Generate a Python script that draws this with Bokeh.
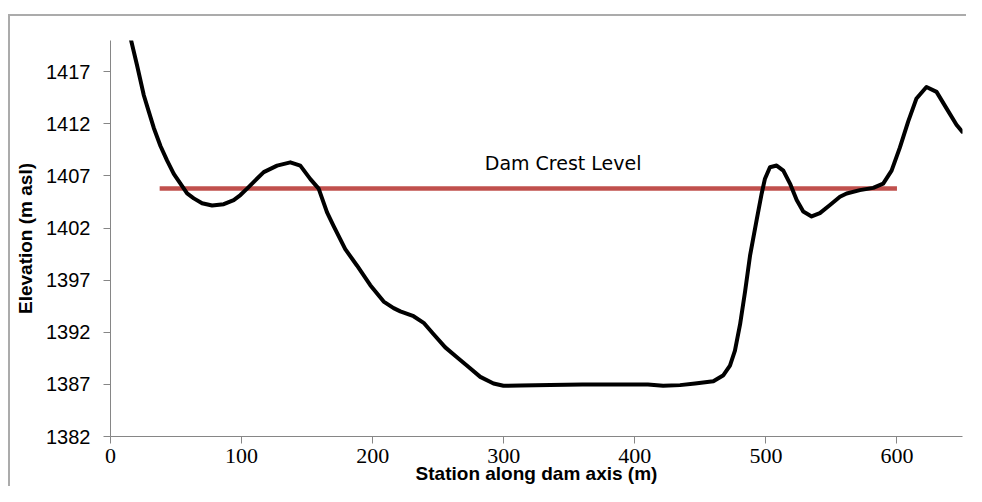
from bokeh.plotting import figure
from bokeh.models import Range1d, FixedTicker, Label
from bokeh.embed import file_html
from bokeh.resources import INLINE

# Ground profile along the dam axis (station m, elevation m asl)
station = [14.8, 20.33, 25.41, 29.22, 33.03, 38.12, 43.2, 48.28, 53.36, 58.44,
           63.53, 69.88, 77.5, 86.4, 94.0, 99.1, 104.2, 110.5, 116.9, 127.1,
           137.2, 144.8, 152.5, 158.8, 165.2, 170.25, 179.1, 188.0, 198.2, 208.4,
           216.0, 221.1, 231.2, 238.9, 246.5, 255.4, 264.3, 273.2, 282.1, 292.2,
           299.8, 312.6, 335.4, 360.0, 390.0, 410.0, 421.6, 434.5, 446.0, 459.9,
           467.6, 472.6, 476.4, 480.3, 484.1, 487.9, 493.0, 496.8, 499.3, 503.1,
           508.2, 513.3, 518.4, 523.5, 528.5, 534.9, 541.2, 548.9, 556.5, 561.6,
           571.7, 581.9, 589.5, 595.9, 602.2, 608.6, 614.9, 622.5, 630.2, 637.8,
           645.4, 649.8]
elevation = [1420.5, 1417.58, 1414.75, 1413.18, 1411.61, 1409.88, 1408.47, 1407.21, 1406.27, 1405.32,
             1404.85, 1404.38, 1404.16, 1404.29, 1404.69, 1405.17, 1405.79, 1406.58, 1407.37, 1407.99,
             1408.31, 1407.99, 1406.7, 1405.79, 1403.5, 1402.18, 1399.98, 1398.41, 1396.52, 1394.95,
             1394.32, 1394.01, 1393.54, 1392.91, 1391.81, 1390.55, 1389.61, 1388.66, 1387.72, 1387.09,
             1386.87, 1386.9, 1386.95, 1387.0, 1387.0, 1386.98, 1386.88, 1386.93, 1387.08, 1387.3,
             1387.88, 1388.8, 1390.23, 1392.75, 1395.89, 1399.35, 1402.81, 1405.32, 1406.74, 1407.84,
             1408.0, 1407.52, 1406.27, 1404.69, 1403.59, 1403.12, 1403.44, 1404.22, 1405.0, 1405.32,
             1405.64, 1405.86, 1406.27, 1407.52, 1409.72, 1412.24, 1414.44, 1415.54, 1415.07, 1413.49,
             1411.92, 1411.25]

crest_station = [37.5, 600.0]
crest_level = [1405.8, 1405.8]

x_ticks = [0, 100, 200, 300, 400, 500, 600]
y_ticks = [1382, 1387, 1392, 1397, 1402, 1407, 1412, 1417]

p = figure(width=966, height=486, output_backend="svg", toolbar_location=None,
           x_range=Range1d(0, 650), y_range=Range1d(1382, 1420),
           min_border_left=110, min_border_right=4, min_border_top=40, min_border_bottom=10)
p.outline_line_color = None
p.xgrid.visible = False
p.ygrid.visible = False
p.background_fill_color = None
p.border_fill_color = None
# outer chart-area border: thin grey top and left edges (right/bottom fall outside the view)
p.styles = {
    "background-color": "white",
    "background-image": (
        "linear-gradient(to bottom, transparent 14px, #ababab 14px, #ababab 16px, transparent 16px), "
        "linear-gradient(to right, transparent 8px, #ababab 8px, #ababab 10px, transparent 10px)"
    ),
    "background-size": "100% 100%, 100% 100%",
    "background-position": "8px 0px, 0px 14px",
    "background-repeat": "no-repeat, no-repeat",
}

for ax in (p.xaxis[0], p.yaxis[0]):
    ax.axis_line_color = "#868686"
    ax.major_tick_line_color = "#868686"
    ax.major_tick_out = 7
    ax.major_tick_in = 0
    ax.minor_tick_line_color = None
    ax.major_label_text_color = "black"
    ax.axis_label_text_font = "Liberation Sans"
    ax.axis_label_text_font_style = "bold"
    ax.axis_label_text_font_size = "19px"
    ax.axis_label_text_color = "black"

p.xaxis[0].ticker = FixedTicker(ticks=x_ticks)
p.yaxis[0].ticker = FixedTicker(ticks=y_ticks)
p.xaxis[0].major_label_text_font = "Liberation Serif"
p.xaxis[0].major_label_text_font_size = "22px"
p.xaxis[0].major_label_standoff = 5
p.xaxis[0].axis_label = "Station along dam axis (m)"
p.xaxis[0].axis_label_standoff = -3
p.yaxis[0].major_label_text_font = "Liberation Sans"
p.yaxis[0].major_label_text_font_size = "20px"
p.yaxis[0].major_label_standoff = 13
p.yaxis[0].axis_label = "Elevation (m asl)"
p.yaxis[0].axis_label_standoff = 7

p.line(crest_station, crest_level, line_color="#c0504d", line_width=4.5)
p.line(station, elevation, line_color="black", line_width=4, line_join="round", line_cap="round")

p.add_layout(Label(x=345.3, y=1408.26, text="Dam Crest Level", text_font="DejaVu Sans",
                   text_font_size="19px", text_align="center", text_baseline="middle",
                   text_color="black"))

open("out.html", "w").write(file_html(p, INLINE))
